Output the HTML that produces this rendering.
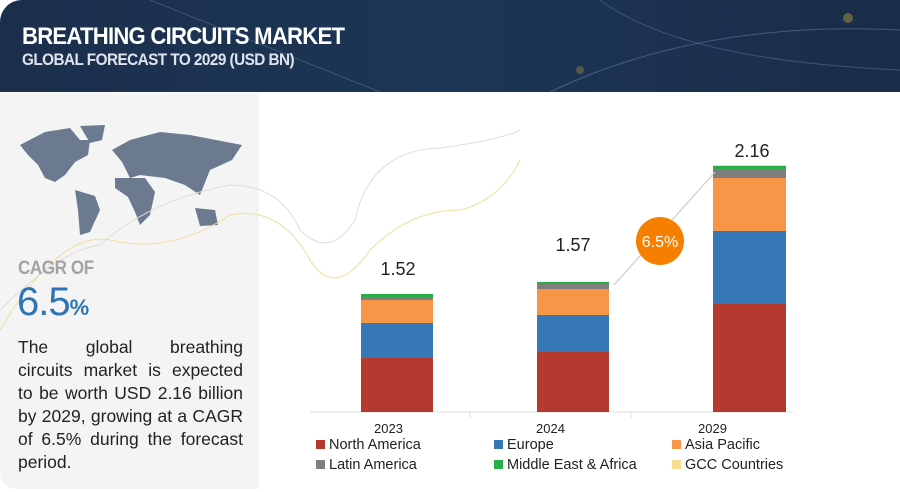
<!DOCTYPE html>
<html><head><meta charset="utf-8"><style>
*{margin:0;padding:0;box-sizing:border-box}
body{width:900px;height:492px;background:#fff;font-family:"Liberation Sans",sans-serif;position:relative;overflow:hidden}
.hdr{position:absolute;left:0;top:0;width:900px;height:92px;background:linear-gradient(90deg,#1b2f4c,#1d3556 50%,#1a2d48);border-top-left-radius:22px;overflow:hidden}
.t1{position:absolute;left:22px;top:23px;color:#fff;font-weight:bold;font-size:24px;letter-spacing:-0.8px;transform:scaleX(0.92);transform-origin:left}
.t2{position:absolute;left:22px;top:50px;color:#dfe4ec;font-weight:bold;font-size:17px;letter-spacing:-0.6px;transform:scaleX(0.9);transform-origin:left}
.left{position:absolute;left:0;top:93px;width:259px;height:396px;background:#f4f4f4;border-bottom-left-radius:16px}
.cagr{position:absolute;left:18px;top:258px;color:#a3a3a3;font-weight:bold;font-size:19px;letter-spacing:-0.5px;transform:scaleX(0.9);transform-origin:left}
.big{position:absolute;left:17px;top:280px;color:#2e75b6;font-size:40px;letter-spacing:-1px}
.big span{font-size:22px;font-weight:bold}
.para{position:absolute;left:18px;top:336px;width:225px;font-size:17.5px;line-height:23px;color:#222}
.para div{text-align:justify;text-align-last:justify;height:23px;white-space:nowrap}
.para div.l{text-align-last:left}
.lbl{position:absolute;font-size:13px;color:#222}
.leg{position:absolute;font-size:14.5px;color:#222}
.leg i{display:inline-block;width:9px;height:9px;margin-right:4px;vertical-align:0px}
.val{position:absolute;font-size:18px;color:#222;width:80px;text-align:center;margin-left:-40px}
</style></head><body>
<div class="hdr">
<svg width="900" height="92" style="position:absolute;left:0;top:0">
<path d="M150 0 Q300 60 380 92" stroke="#4a6a8e" stroke-width="1" fill="none" opacity=".6"/>
<path d="M550 92 Q700 20 900 30" stroke="#5a7aa0" stroke-width="1" fill="none" opacity=".6"/>
<path d="M600 0 Q680 60 900 70" stroke="#5a7aa0" stroke-width="1" fill="none" opacity=".5"/>
<circle cx="848" cy="18" r="5" fill="#d4b13e" opacity=".4"/>
<circle cx="580" cy="70" r="4" fill="#d4b13e" opacity=".3"/>
</svg>
<div class="t1">BREATHING CIRCUITS MARKET</div>
<div class="t2">GLOBAL FORECAST TO 2029 (USD BN)</div>
</div>
<div class="left"></div>
<svg width="900" height="492" style="position:absolute;left:0;top:0">
<g fill="#6b7a8f">
<path d="M20 145 L45 132 L70 128 L80 140 L90 140 L88 155 L75 162 L65 175 L55 182 L45 178 L38 165 L28 155 Z"/>
<path d="M80 126 L105 125 L102 140 L90 143 Z"/>
<path d="M75 190 L95 196 L100 210 L90 232 L80 235 L78 210 Z"/>
<path d="M112 150 L130 140 L160 132 L190 135 L242 145 L232 160 L210 170 L200 195 L185 185 L165 178 L140 175 L130 178 L122 162 Z"/>
<path d="M115 178 L145 178 L155 192 L150 215 L140 225 L135 212 L128 197 L115 188 Z"/>
<path d="M195 208 L215 210 L218 225 L200 226 Z"/>
</g>
<path d="M0 330 Q60 230 110 240 Q170 255 230 215 Q280 205 310 260 Q335 300 370 250 Q410 210 460 210 Q500 200 520 160" stroke="#f2dc9a" fill="none"/>
<path d="M0 310 Q60 250 100 245 Q150 200 230 185 Q280 185 300 230 Q330 260 355 220 Q370 150 440 148 Q500 140 520 130" stroke="#ddd" fill="none"/>
<line x1="310" y1="412" x2="793" y2="412" stroke="#ddd"/>
<line x1="470" y1="412" x2="470" y2="418" stroke="#ddd"/>
<line x1="631" y1="412" x2="631" y2="418" stroke="#ddd"/>
<rect x="361" y="358" width="72" height="54" fill="#b43a30"/>
<rect x="361" y="323" width="72" height="35" fill="#3677b5"/>
<rect x="361" y="300" width="72" height="23" fill="#f79646"/>
<rect x="361" y="297" width="72" height="3" fill="#7f7f7f"/>
<rect x="361" y="294" width="72" height="3" fill="#27ae48"/>
<rect x="537" y="352" width="72" height="60" fill="#b43a30"/>
<rect x="537" y="315" width="72" height="37" fill="#3677b5"/>
<rect x="537" y="289" width="72" height="26" fill="#f79646"/>
<rect x="537" y="284" width="72" height="5" fill="#7f7f7f"/>
<rect x="537" y="282" width="72" height="2" fill="#27ae48"/>
<rect x="713" y="304" width="73" height="108" fill="#b43a30"/>
<rect x="713" y="231" width="73" height="73" fill="#3677b5"/>
<rect x="713" y="178" width="73" height="53" fill="#f79646"/>
<rect x="713" y="169" width="73" height="9" fill="#7f7f7f"/>
<rect x="713" y="166" width="73" height="3" fill="#27ae48"/>
<rect x="713" y="165" width="73" height="1" fill="#f6e48a"/>
<line x1="614" y1="285" x2="715" y2="172" stroke="#ccc" stroke-width="1.2"/>
<circle cx="660" cy="241" r="24" fill="#f77f00"/>
<text x="660" y="247" fill="#fff" font-size="16" text-anchor="middle" font-family="Liberation Sans">6.5%</text>
</svg>
<div class="val" style="left:398px;top:259px">1.52</div>
<div class="val" style="left:573px;top:235px">1.57</div>
<div class="val" style="left:752px;top:141px">2.16</div>
<div class="cagr">CAGR OF</div>
<div class="big">6.5<span>%</span></div>
<div class="para">
<div>The global breathing</div>
<div>circuits market is expected</div>
<div>to be worth USD 2.16 billion</div>
<div>by 2029, growing at a CAGR</div>
<div>of 6.5% during the forecast</div>
<div class="l">period.</div>
</div>
<div class="lbl" style="left:374px;top:421px">2023</div>
<div class="lbl" style="left:536px;top:421px">2024</div>
<div class="lbl" style="left:698px;top:421px">2029</div>
<div class="leg" style="left:316px;top:437px"><i style="background:#b43a30"></i>North America</div>
<div class="leg" style="left:494px;top:437px"><i style="background:#3677b5"></i>Europe</div>
<div class="leg" style="left:672px;top:437px"><i style="background:#f79646"></i>Asia Pacific</div>
<div class="leg" style="left:316px;top:457px"><i style="background:#7f7f7f"></i>Latin America</div>
<div class="leg" style="left:494px;top:457px"><i style="background:#27ae48"></i>Middle East &amp; Africa</div>
<div class="leg" style="left:672px;top:457px"><i style="background:#f6e08f"></i>GCC Countries</div>
</body></html>
